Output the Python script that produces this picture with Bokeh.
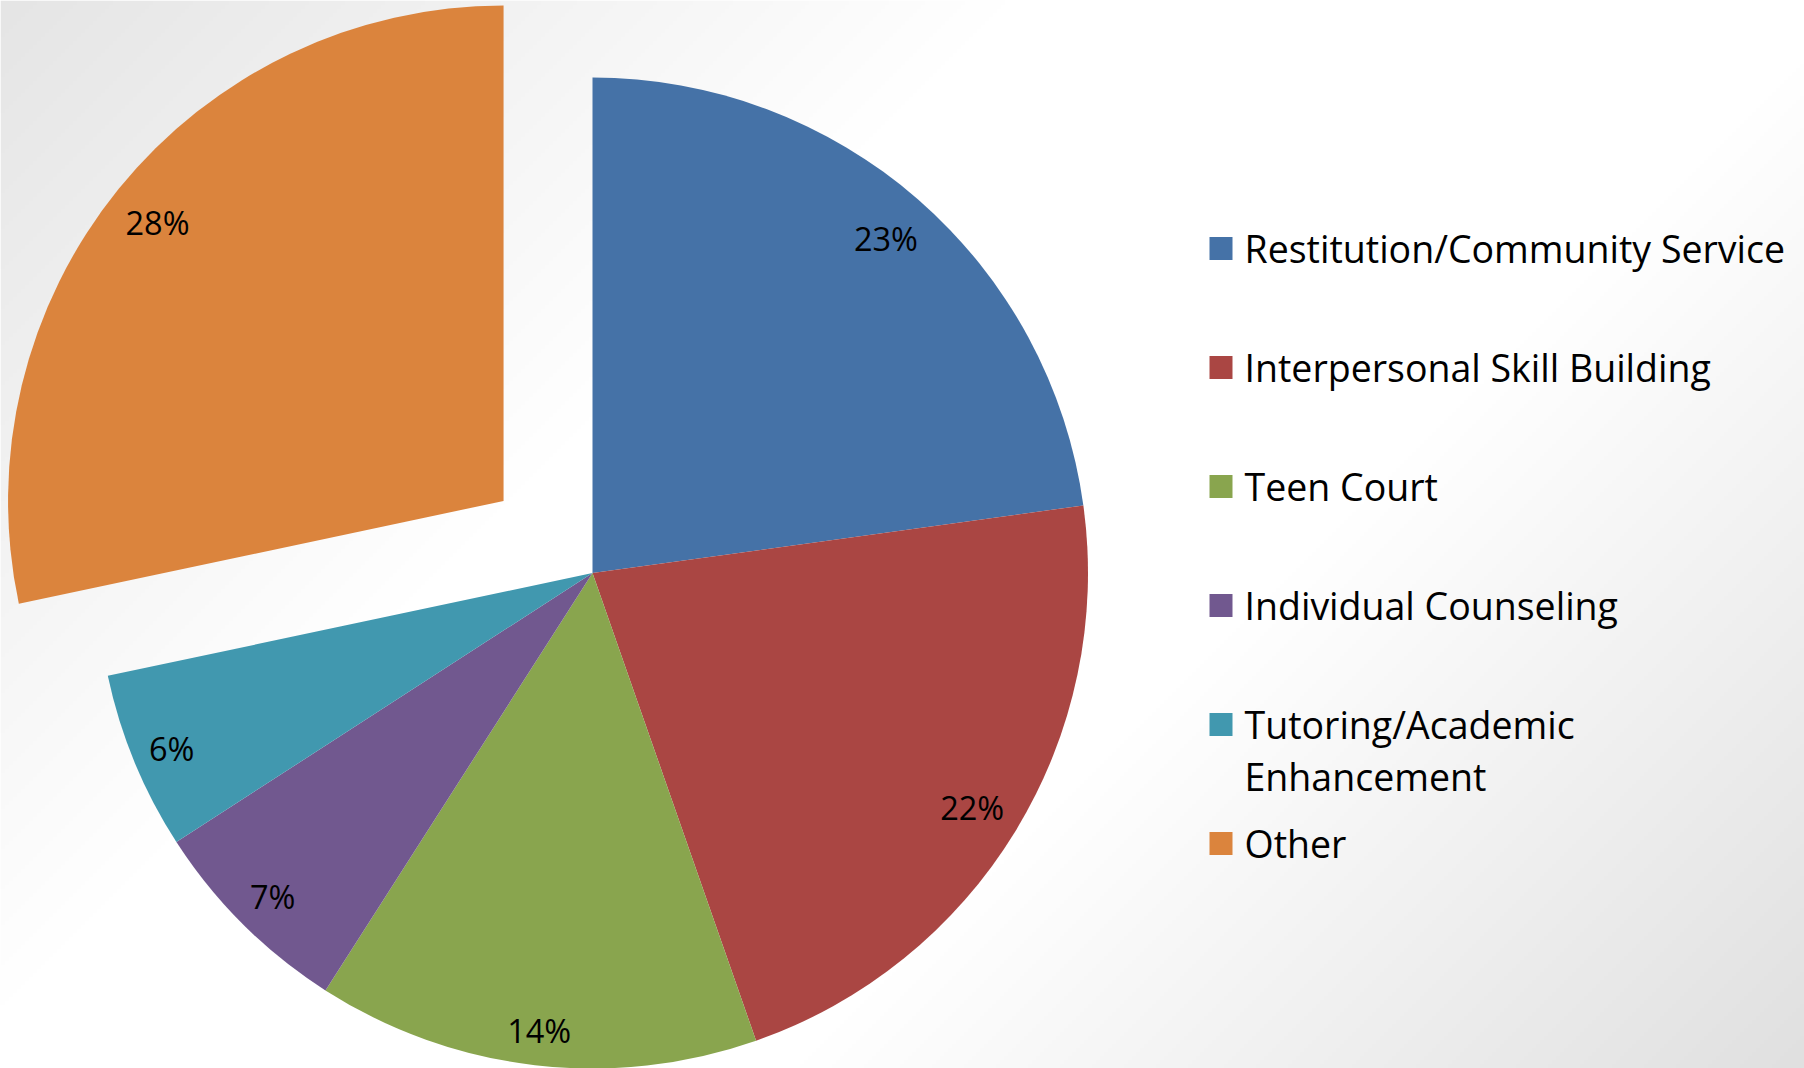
import numpy as np
from bokeh.plotting import figure
from bokeh.models import Range1d, ColumnDataSource
from bokeh.core.properties import value
from bokeh.embed import file_html
from bokeh.resources import INLINE

# ---------------- data ----------------
categories = [
    "Restitution/Community Service",
    "Interpersonal Skill Building",
    "Teen Court",
    "Individual Counseling",
    "Tutoring/Academic\nEnhancement",
    "Other",
]
shares = [22.8, 21.8, 14.4, 6.8, 5.8, 28.3]
colors = ["#4572A7", "#AA4643", "#89A54E", "#71588F", "#4198AF", "#DB843D"]
exploded = ["Other"]

# ---------------- layout ----------------
PAGE_W, PAGE_H = 1804, 1068
W, H = PAGE_W, PAGE_H


def Y(py):
    return PAGE_H - py


CX, CY = 592.0, Y(572.5)
R = 495.5
EXPLODE = 0.231
LABEL_PX = 32.5
LABEL_FONT = f"{LABEL_PX}px"
LABEL_PAD = 13.0          # gap between label box and the arc ("inside end")
LABEL_BOX_H = 40.0
LEG_FONT = "37.5px"
LEG_X_SQ, LEG_X_TX = 1220.5, 1244.0
LEG_TOP, LEG_STEP, LEG_LINE = 248.0, 119.0, 52.0

p = figure(
    width=W, height=H,
    x_range=Range1d(0, PAGE_W), y_range=Range1d(0, PAGE_H),
    output_backend="svg", toolbar_location=None, min_border=0,
    title=None,
)
p.axis.visible = False
p.grid.visible = False
p.outline_line_color = None
p.background_fill_color = "white"
p.border_fill_color = "white"

# ---------------- background gradient ----------------
nx, ny = W // 4, H // 4
xs = (np.arange(nx) + 0.5) * W / nx
ys = (np.arange(ny) + 0.5) * H / ny
PX, PYd = np.meshgrid(xs, ys)
PY = PAGE_H - PYd
u = (PX + PY) / (PAGE_W + PAGE_H)
g = np.where(u < 0.35, 229 + 26 * u / 0.35,
             np.where(u > 0.65, 255 - 31 * (u - 0.65) / 0.35, 255))
g = np.clip(g, 0, 255).astype(np.uint8)
img = np.empty((ny, nx), dtype=np.uint32)
view = img.view(dtype=np.uint8).reshape((ny, nx, 4))
view[..., 0] = g
view[..., 1] = g
view[..., 2] = g
view[..., 3] = 255
p.image_rgba(image=[img], x=0, y=0, dw=W, dh=H)

# ---------------- pie ----------------
total = float(sum(shares))
frac = np.array(shares) / total
ends = np.cumsum(frac) * 2 * np.pi
starts = ends - frac * 2 * np.pi
mid = (starts + ends) / 2
off = np.array([EXPLODE * R if c in exploded else 0.0 for c in categories])
cx = CX + off * np.sin(mid)
cy = CY + off * np.cos(mid)

src = ColumnDataSource(dict(
    x=cx, y=cy,
    start=np.pi / 2 - ends, end=np.pi / 2 - starts,
    color=colors,
))
p.wedge(x="x", y="y", radius=R, start_angle="start", end_angle="end",
        fill_color="color", line_color=None, source=src)

# percentage labels, placed "inside end": the label box sits just inside the arc
pct = [f"{round(f * 100):.0f}%" for f in frac]
box_w = np.array([0.65 * LABEL_PX * len(t) for t in pct])
proj = np.abs(np.sin(mid)) * box_w / 2 + np.abs(np.cos(mid)) * LABEL_BOX_H / 2
dist = R - LABEL_PAD - proj
lx = cx + dist * np.sin(mid)
ly = cy + dist * np.cos(mid) - 2
p.text(x=lx, y=ly, text=pct, text_font=value("Open Sans"),
       text_font_size=LABEL_FONT, text_color="black",
       text_align="center", text_baseline="middle")

# ---------------- legend ----------------
sq_y = [Y(LEG_TOP + i * LEG_STEP) for i in range(len(categories))]
p.scatter(x=[LEG_X_SQ] * len(categories), y=sq_y, marker="square", size=23,
          fill_color=colors, line_color=None)

tx, ty, tt = [], [], []
for i, c in enumerate(categories):
    for j, line in enumerate(c.split("\n")):
        tx.append(LEG_X_TX)
        ty.append(Y(LEG_TOP + i * LEG_STEP + j * LEG_LINE))
        tt.append(line)
p.text(x=tx, y=ty, text=tt, text_font=value("Open Sans"),
       text_font_size=LEG_FONT, text_color="black",
       text_align="left", text_baseline="middle")

open("out.html", "w").write(file_html(p, INLINE))
